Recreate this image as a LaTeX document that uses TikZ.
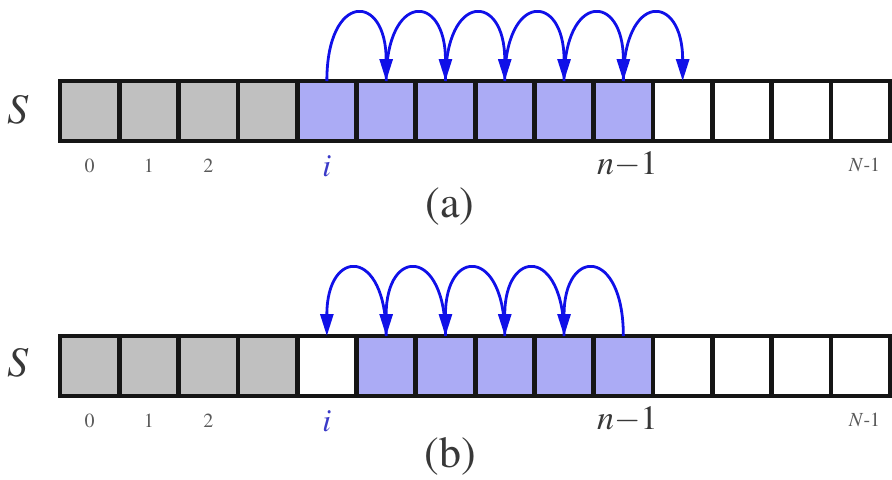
\documentclass[tikz,border=0pt]{standalone}
\usepackage[T1]{fontenc}
\usepackage{mathptmx}
\usetikzlibrary{positioning,arrows.meta,calc}
\definecolor{ink}     {HTML}{151515}
\definecolor{used}    {HTML}{C0C0C0}
\definecolor{live}    {HTML}{ABABF5}
\definecolor{jumpblue}{HTML}{1010E8}
\definecolor{softink} {HTML}{5A5A5A}
\definecolor{idxblue} {HTML}{3A3AC8}
\tikzset{
  % --- cells
  cell/.style  = {draw=ink, line width=2.4pt, fill=white, inner sep=0pt, outer sep=0pt,
                  minimum width=29.65pt, minimum height=30pt},
  % --- labels
  arr/.style   = {font=\fontsize{21}{24}\selectfont, text=ink!85},
  idx/.style   = {font=\fontsize{10}{12}\selectfont, text=softink, inner sep=0pt},
  ipos/.style  = {font=\fontsize{16}{18}\selectfont, text=idxblue, inner sep=0pt},
  npos/.style  = {font=\fontsize{17}{19}\selectfont, text=ink!85, inner sep=0pt},
  caption/.style = {font=\fontsize{22}{26}\selectfont, text=ink!85},
  % --- edges
  jump/.style  = {-{Triangle[length=11pt,width=6.5pt]}, line width=1.4pt, draw=jumpblue},
}
\begin{document}
\begin{tikzpicture}[x=0.5pt,y=0.5pt]
  \useasboundingbox (0,0) rectangle (892,479);
  % --- (a): elements i..n-1 move one place right
  \foreach \k in {0,...,13}{
    \ifnum\k<4 \def\f{used}\else\ifnum\k<10 \def\f{live}\else\def\f{white}\fi\fi
    \node[cell, fill=\f] (a\k) at ({60+59.3*(\k+0.5)},368) {};
  }
  \node[arr] (sa) at (18,369) {$S$};
  \node[idx] (a0l) at ([yshift=-12.5pt]a0.south) {0};
  \node[idx] (a1l) at ([yshift=-12.5pt]a1.south) {1};
  \node[idx] (a2l) at ([yshift=-12.5pt]a2.south) {2};
  \node[ipos] (ail) at ([yshift=-12.5pt]a4.south) {$i$};
  \node[npos] (anl) at ([xshift=2pt,yshift=-12pt]a9.south) {$n{-}1$};
  \node[idx] (aNl) at ([xshift=2pt,yshift=-12pt]a13.south) {$N$-1};
  \node[caption] (capa) at (450,272) {(a)};
  \foreach \k [evaluate=\k as \j using int(\k+1)] in {4,...,9}
    \draw[jump] (a\k.north) .. controls +(0,89) and +(0,89) .. (a\j.north);

  % --- (b): elements i+1..n-1 move one place left
  \foreach \k in {0,...,13}{
    \ifnum\k<4 \def\f{used}\else\ifnum\k<5 \def\f{white}\else\ifnum\k<10 \def\f{live}\else\def\f{white}\fi\fi\fi
    \node[cell, fill=\f] (b\k) at ({60+59.3*(\k+0.5)},113) {};
  }
  \node[arr] (sb) at (18,116) {$S$};
  \node[idx] (b0l) at ([yshift=-12.5pt]b0.south) {0};
  \node[idx] (b1l) at ([yshift=-12.5pt]b1.south) {1};
  \node[idx] (b2l) at ([yshift=-12.5pt]b2.south) {2};
  \node[ipos] (bil) at ([yshift=-12.5pt]b4.south) {$i$};
  \node[npos] (bnl) at ([xshift=2pt,yshift=-12pt]b9.south) {$n{-}1$};
  \node[idx] (bNl) at ([xshift=2pt,yshift=-12pt]b13.south) {$N$-1};
  \node[caption] (capb) at (450,22) {(b)};
  \foreach \k [evaluate=\k as \j using int(\k-1)] in {5,...,9}
    \draw[jump] (b\k.north) .. controls +(0,89) and +(0,89) .. (b\j.north);
\end{tikzpicture}
\end{document}
